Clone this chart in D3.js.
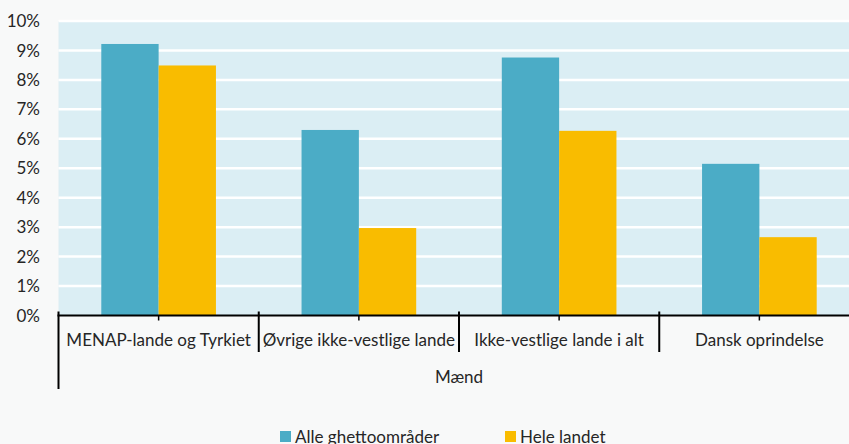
<!DOCTYPE html>
<html>
<head>
<meta charset="utf-8">
<script src="https://cdn.jsdelivr.net/npm/d3@7"></script>
<style>
  html, body { margin: 0; padding: 0; background: #f8f9f9; }
  text { font-family: "Lato", "Open Sans", sans-serif; fill: #262626; }
</style>
</head>
<body>
<div id="app"></div>
<script>
// Data
var categories = ["MENAP-lande og Tyrkiet", "Øvrige ikke-vestlige lande", "Ikke-vestlige lande i alt", "Dansk oprindelse"];
var seriesNames = ["Alle ghettoområder", "Hele landet"];
var ghettoValues = [9.22, 6.30, 8.76, 5.15];
var landetValues = [8.49, 2.97, 6.27, 2.66];
var yTicks = [0, 1, 2, 3, 4, 5, 6, 7, 8, 9, 10];
var groupLabel = "Mænd";

var width = 849,
  height = 444;

var colors = ["#4bacc6", "#f9bc00"];

var svg = d3.select("#app")
  .append("svg")
  .attr("width", width)
  .attr("height", height)
  .style("display", "block");

// plot area runs a bit past the right edge, as in the original
var plotLeft = 58.5, plotRight = 859.5, plotTop = 21, plotBottom = 315.5;

var x0 = d3.scaleBand()
  .domain(categories)
  .range([plotLeft, plotRight]);

var x1 = d3.scaleBand()
  .domain(seriesNames)
  .range([42.8, x0.bandwidth() - 42.8]);

var y = d3.scaleLinear()
  .domain([0, 10])
  .range([plotBottom, plotTop]);

// plot background
svg.append("rect")
  .attr("x", plotLeft)
  .attr("y", plotTop)
  .attr("width", plotRight - plotLeft)
  .attr("height", plotBottom - plotTop)
  .attr("fill", "#dbeef4");

// gridlines
svg.append("g")
  .selectAll("line")
  .data(yTicks.slice(1))
  .enter().append("line")
  .attr("x1", plotLeft)
  .attr("x2", plotRight)
  .attr("y1", d => y(d))
  .attr("y2", d => y(d))
  .attr("stroke", "#ffffff")
  .attr("stroke-width", 2.5);

// y labels
svg.append("g")
  .selectAll("text")
  .data(yTicks)
  .enter().append("text")
  .attr("x", 40)
  .attr("y", d => y(d))
  .attr("dy", "0.36em")
  .attr("text-anchor", "end")
  .style("font-size", "17px")
  .text(d => d + "%");

// bars
var rows = categories.map((c, i) => ({ cat: c, vals: [ghettoValues[i], landetValues[i]] }));

var groups = svg.append("g")
  .selectAll("g")
  .data(rows)
  .enter().append("g")
  .attr("transform", d => "translate(" + x0(d.cat) + ",0)");

groups.selectAll("rect")
  .data(d => d.vals.map((v, j) => ({ name: seriesNames[j], value: v, j: j })))
  .enter().append("rect")
  .attr("x", d => x1(d.name))
  .attr("width", x1.bandwidth())
  .attr("y", d => y(d.value))
  .attr("height", d => y(0) - y(d.value))
  .attr("fill", d => colors[d.j]);

// x axis line
svg.append("line")
  .attr("x1", plotLeft - 1)
  .attr("x2", plotRight)
  .attr("y1", plotBottom)
  .attr("y2", plotBottom)
  .attr("stroke", "#000")
  .attr("stroke-width", 2);

// category separators
var sepX = categories.map(c => x0(c)).concat([plotRight]);
svg.append("g")
  .selectAll("line")
  .data(sepX)
  .enter().append("line")
  .attr("x1", d => d)
  .attr("x2", d => d)
  .attr("y1", plotBottom - 4)
  .attr("y2", (d, i) => i === 0 ? 389 : 352)
  .attr("stroke", "#000")
  .attr("stroke-width", 2);

// small ticks at group centres
svg.append("g")
  .selectAll("line")
  .data(categories)
  .enter().append("line")
  .attr("x1", d => x0(d) + x0.bandwidth() / 2)
  .attr("x2", d => x0(d) + x0.bandwidth() / 2)
  .attr("y1", plotBottom)
  .attr("y2", plotBottom + 5)
  .attr("stroke", "#000")
  .attr("stroke-width", 1.5);

// category labels
svg.append("g")
  .selectAll("text")
  .data(categories)
  .enter().append("text")
  .attr("x", d => x0(d) + x0.bandwidth() / 2)
  .attr("y", 346)
  .attr("text-anchor", "middle")
  .style("font-size", "17px")
  .text(d => d);

svg.append("text")
  .attr("x", (plotLeft + plotRight) / 2)
  .attr("y", 383)
  .attr("text-anchor", "middle")
  .style("font-size", "17px")
  .text(groupLabel);

// legend
var legendX = [280, 505];
var legend = svg.append("g")
  .selectAll("g")
  .data(seriesNames)
  .enter().append("g")
  .attr("transform", (d, i) => "translate(" + legendX[i] + ",431)");

legend.append("rect")
  .attr("width", 11)
  .attr("height", 11)
  .attr("fill", (d, i) => colors[i]);

legend.append("text")
  .attr("x", 15)
  .attr("y", 12)
  .style("font-size", "17px")
  .text(d => d);
</script>
</body>
</html>
